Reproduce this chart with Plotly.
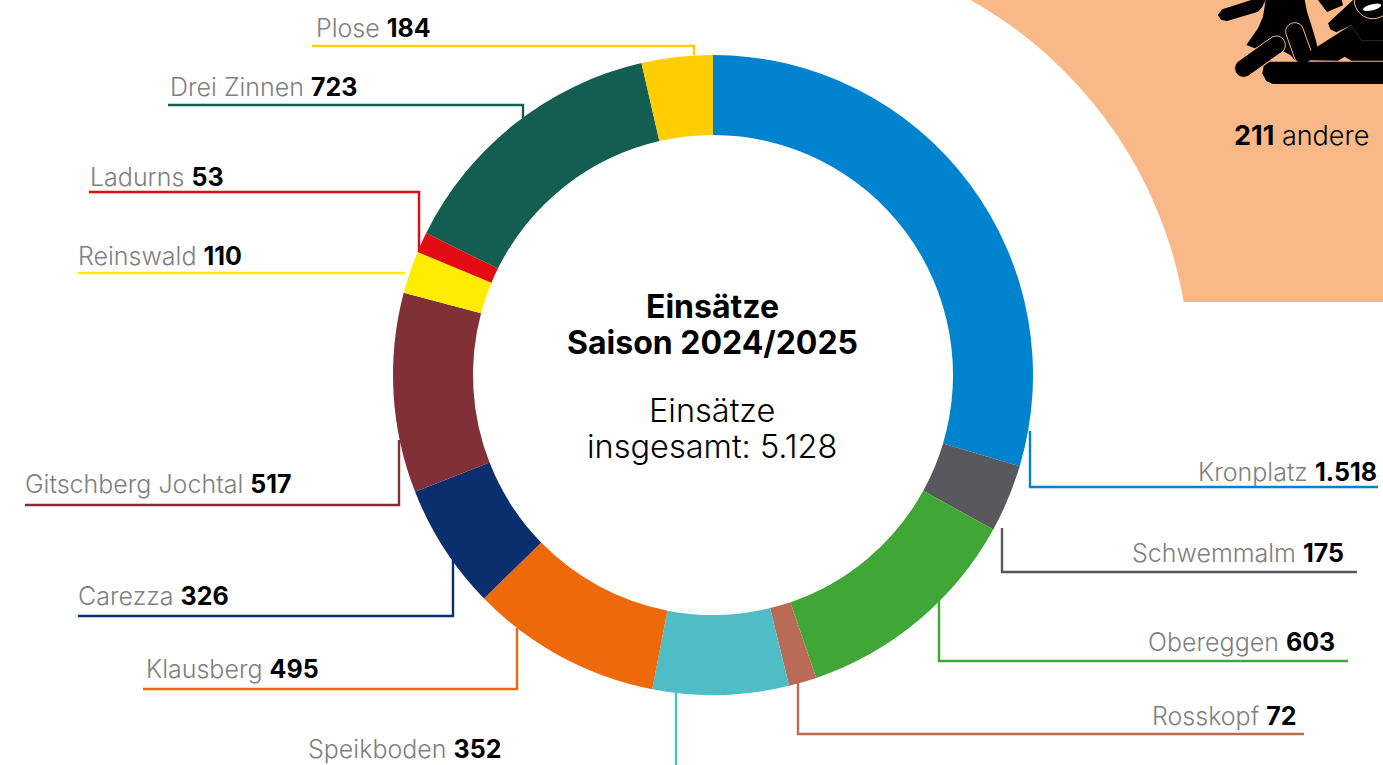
import numpy as np
import plotly.graph_objects as go

W, H = 1383, 765
resorts = ["Kronplatz", "Schwemmalm", "Obereggen", "Rosskopf", "Speikboden", "Klausberg",
           "Carezza", "Gitschberg Jochtal", "Reinswald", "Ladurns", "Drei Zinnen", "Plose"]
values = [1518, 175, 603, 72, 352, 495, 326, 517, 110, 53, 723, 184]
value_text = ["1.518", "175", "603", "72", "352", "495", "326", "517", "110", "53", "723", "184"]
colors = ["#0083CF", "#58585D", "#40A737", "#B96B55", "#4FBDC6", "#ED690A",
          "#0A2E6E", "#803036", "#FFED00", "#E30A13", "#135E50", "#FFCD00"]
label_x = [1378, 1345, 1336, 1298, 501, 320, 226, 295, 243, 223, 358, 429]
label_y = [471.5, 552.5, 641.5, 715.5, 749, 668.5, 595.5, 483.5, 255.5, 176.5, 86.5, 27.5]
label_left = [None, None, None, None, 307, 145, 77, 24, 77, 89, 169, 315]
leaders = [
    [(1378, 487), (1030, 487), (1030, 431)],
    [(1357, 572), (1002, 572), (1002, 528)],
    [(1348, 661), (939, 661), (939, 600)],
    [(1304, 734), (798, 734), (798, 683)],
    [(676, 693), (676, 765)],
    [(143, 689), (517, 689), (517, 628)],
    [(78, 616), (453, 616), (453, 560)],
    [(25, 505), (399, 505), (399, 440)],
    [(78, 273), (405, 273)],
    [(89, 192), (419, 192), (419, 252)],
    [(168, 105), (523, 105), (523, 118)],
    [(312, 46), (694, 46), (694, 55)],
]
FONT = "Inter, 'Open Sans', sans-serif"
PEACH = "#F8B887"
cx, cy, R = 713, 375, 320

fig = go.Figure()
fig.add_trace(go.Pie(
    labels=resorts, values=values, sort=False, direction="clockwise", rotation=0,
    hole=0.75, textinfo="none", hoverinfo="label+value", showlegend=False,
    marker=dict(colors=colors, line=dict(width=0)),
    domain=dict(x=[(cx - R) / W, (cx + R) / W], y=[(H - cy - R) / H, (H - cy + R) / H]),
))
for pts, c in zip(leaders, colors):
    fig.add_trace(go.Scatter(x=[p[0] for p in pts], y=[p[1] for p in pts], mode="lines",
                             line=dict(color=c, width=2.4), hoverinfo="skip", showlegend=False,
                             xaxis="x", yaxis="y"))

shapes = [
    dict(type="rect", x0=960, x1=W, y0=0, y1=302, fillcolor=PEACH, line_width=0, layer="below"),
    dict(type="circle", x0=760 - 430, x1=760 + 430, y0=375 - 430, y1=375 + 430,
         fillcolor="white", line_width=0, layer="below"),
]

# pictogram: outlines measured in a 3x crop whose origin is (1203, 0)
def px(p):
    return 1203 + p[0] / 3, p[1] / 3

def poly(points):
    q = [px(p) for p in points]
    return "M " + " L ".join(f"{a:.1f},{b:.1f}" for a, b in q) + " Z"

def capsule(a, b, r, n=14):
    a, b = np.array(a, float), np.array(b, float)
    ang = np.arctan2(*(b - a)[::-1])
    t1 = np.linspace(ang - np.pi / 2, ang + np.pi / 2, n)
    t2 = t1 + np.pi
    pts = [tuple(b + r * np.array([np.cos(t), np.sin(t)])) for t in t1]
    pts += [tuple(a + r * np.array([np.cos(t), np.sin(t)])) for t in t2]
    return poly(pts)

def ellipse(c, rx, ry, rot, n=30):
    ca, sa = np.cos(rot), np.sin(rot)
    pts = []
    for t in np.linspace(0, 2 * np.pi, n, endpoint=False):
        x, y = rx * np.cos(t), ry * np.sin(t)
        pts.append((c[0] + x * ca - y * sa, c[1] + x * sa + y * ca))
    return poly(pts)

def pic(path, fill="black", outline=False):
    shapes.append(dict(type="path", path=path, fillcolor=fill, layer="above",
                       line=dict(width=1 if outline else 0, color=PEACH)))

pic(poly([(345, 0), (372, 36), (420, 16), (416, 0)]))
pic(poly([(145, 0), (58, 28), (44, 45), (55, 60), (72, 63), (165, 35), (178, 20), (188, 0),
          (305, 0), (312, 35), (325, 75), (340, 125), (345, 150), (275, 180), (262, 165), (195, 130),
          (155, 145), (130, 135), (165, 85), (180, 50), (188, 0)]))
pic(capsule((275, 95), (300, 165), 27), outline=True)
pic(capsule((122, 205), (220, 135), 27), outline=True)
pic(poly([(280, 180), (445, 75), (475, 122), (540, 122), (540, 182), (445, 182),
          (425, 170), (405, 182)]))
pic(poly([(375, 70), (450, 0), (540, 0), (540, 122), (475, 122), (445, 75), (400, 97), (382, 88)]))
pic(ellipse((510, 0), 56, 56, 0), outline=True)
pic(poly([(200, 185), (540, 185), (540, 252), (210, 252), (190, 243), (178, 220), (182, 198)]))
pic(ellipse((507, 22), 28, 9, -0.25), fill="white")

ann = []
for name, vt, x, y, left in zip(resorts, value_text, label_x, label_y, label_left):
    txt = f"<span style='color:#808080'>{name}</span> <b>{vt}</b>"
    if left is None:
        ann.append(dict(x=x, y=y, text=txt, xanchor="right"))
    else:
        ann.append(dict(x=left, y=y, text=txt, xanchor="left"))
for a in ann:
    a.update(yanchor="middle", font=dict(family=FONT, size=25, color="black", weight=300))
center = [("<b>Einsätze</b>", 306, 32), ("<b>Saison 2024/2025</b>", 342, 32),
          ("Einsätze", 410, 32.5), ("insgesamt: 5.128", 446.5, 32.5)]
for t, y, s in center:
    ann.append(dict(x=712, y=y, text=t, xanchor="center", yanchor="middle",
                    font=dict(family=FONT, size=s, color="black", weight=300)))
ann.append(dict(x=1233, y=135, text="<b>211</b> andere", xanchor="left", yanchor="middle",
                font=dict(family=FONT, size=27, color="black", weight=300)))
for a in ann:
    a.update(showarrow=False, xref="x", yref="y", borderpad=0)

fig.update_layout(
    width=W, height=H, margin=dict(l=0, r=0, t=0, b=0),
    paper_bgcolor="white", plot_bgcolor="rgba(0,0,0,0)", shapes=shapes, annotations=ann,
    xaxis=dict(range=[0, W], visible=False, fixedrange=True),
    yaxis=dict(range=[H, 0], visible=False, fixedrange=True),
)
fig.write_html("out.html", config=dict(displayModeBar=False),
               post_script="document.body.style.margin='0';document.body.style.overflow='hidden';")
